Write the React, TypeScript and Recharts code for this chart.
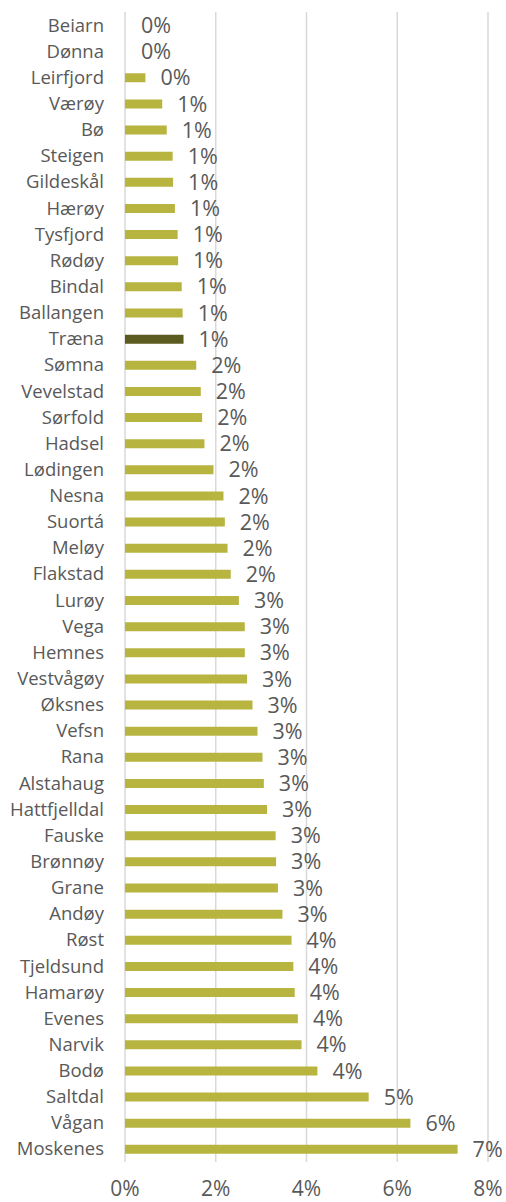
import { BarChart, Bar, XAxis, YAxis, CartesianGrid, Cell, LabelList } from 'recharts';

const municipalities = [
  'Beiarn', 'Dønna', 'Leirfjord', 'Værøy', 'Bø', 'Steigen', 'Gildeskål', 'Hærøy',
  'Tysfjord', 'Rødøy', 'Bindal', 'Ballangen', 'Træna', 'Sømna', 'Vevelstad', 'Sørfold',
  'Hadsel', 'Lødingen', 'Nesna', 'Suortá', 'Meløy', 'Flakstad', 'Lurøy', 'Vega',
  'Hemnes', 'Vestvågøy', 'Øksnes', 'Vefsn', 'Rana', 'Alstahaug', 'Hattfjelldal', 'Fauske',
  'Brønnøy', 'Grane', 'Andøy', 'Røst', 'Tjeldsund', 'Hamarøy', 'Evenes', 'Narvik',
  'Bodø', 'Saltdal', 'Vågan', 'Moskenes',
];

// share, in percent
const shares = [
  0, 0, 0.45, 0.82, 0.92, 1.05, 1.06, 1.1,
  1.16, 1.17, 1.25, 1.27, 1.29, 1.57, 1.67, 1.7,
  1.75, 1.95, 2.17, 2.2, 2.26, 2.33, 2.51, 2.64,
  2.64, 2.69, 2.81, 2.92, 3.03, 3.06, 3.13, 3.32,
  3.33, 3.37, 3.47, 3.67, 3.71, 3.74, 3.81, 3.89,
  4.24, 5.37, 6.29, 7.33,
];

const xTicks = [0, 2, 4, 6, 8];
const highlighted = 'Træna';

const BAR = '#b7b43f';
const BAR_DARK = '#5b5a1f';
const TEXT = '#595959';
const FONT = '"Open Sans", sans-serif';

const data = municipalities.map((name, i) => ({ name, value: shares[i] }));

export default function App() {
  return (
    <div style={{ position: 'absolute', left: 0, top: 0, fontFamily: FONT }}>
      <BarChart
        width={506}
        height={1202}
        data={data}
        layout="vertical"
        margin={{ top: 12, right: 18, left: 0, bottom: 0 }}
        barCategoryGap={0}
      >
        <CartesianGrid horizontal={false} stroke="#d9d9d9" strokeWidth={1.5} />
        <XAxis
          type="number"
          domain={[0, 8]}
          ticks={xTicks}
          tickFormatter={(v: number) => `${v}%`}
          axisLine={false}
          tickLine={false}
          tickSize={0}
          tickMargin={19}
          height={40}
          tick={{ fill: TEXT, fontSize: 21, fontFamily: FONT }}
        />
        <YAxis
          type="category"
          dataKey="name"
          width={125}
          axisLine={false}
          tickLine={false}
          tickSize={0}
          tickMargin={21}
          interval={0}
          tick={{ fill: TEXT, fontSize: 18.5, fontFamily: FONT }}
        />
        <Bar dataKey="value" barSize={9} minPointSize={1} isAnimationActive={false}>
          {data.map((d) => (
            <Cell
              key={d.name}
              fill={d.value === 0 ? 'transparent' : d.name === highlighted ? BAR_DARK : BAR}
            />
          ))}
          <LabelList
            dataKey="value"
            position="right"
            offset={15}
            formatter={(v: number) => `${Math.round(v)}%`}
            style={{ fill: TEXT, fontSize: 21.5, fontFamily: FONT }}
          />
        </Bar>
      </BarChart>
    </div>
  );
}
